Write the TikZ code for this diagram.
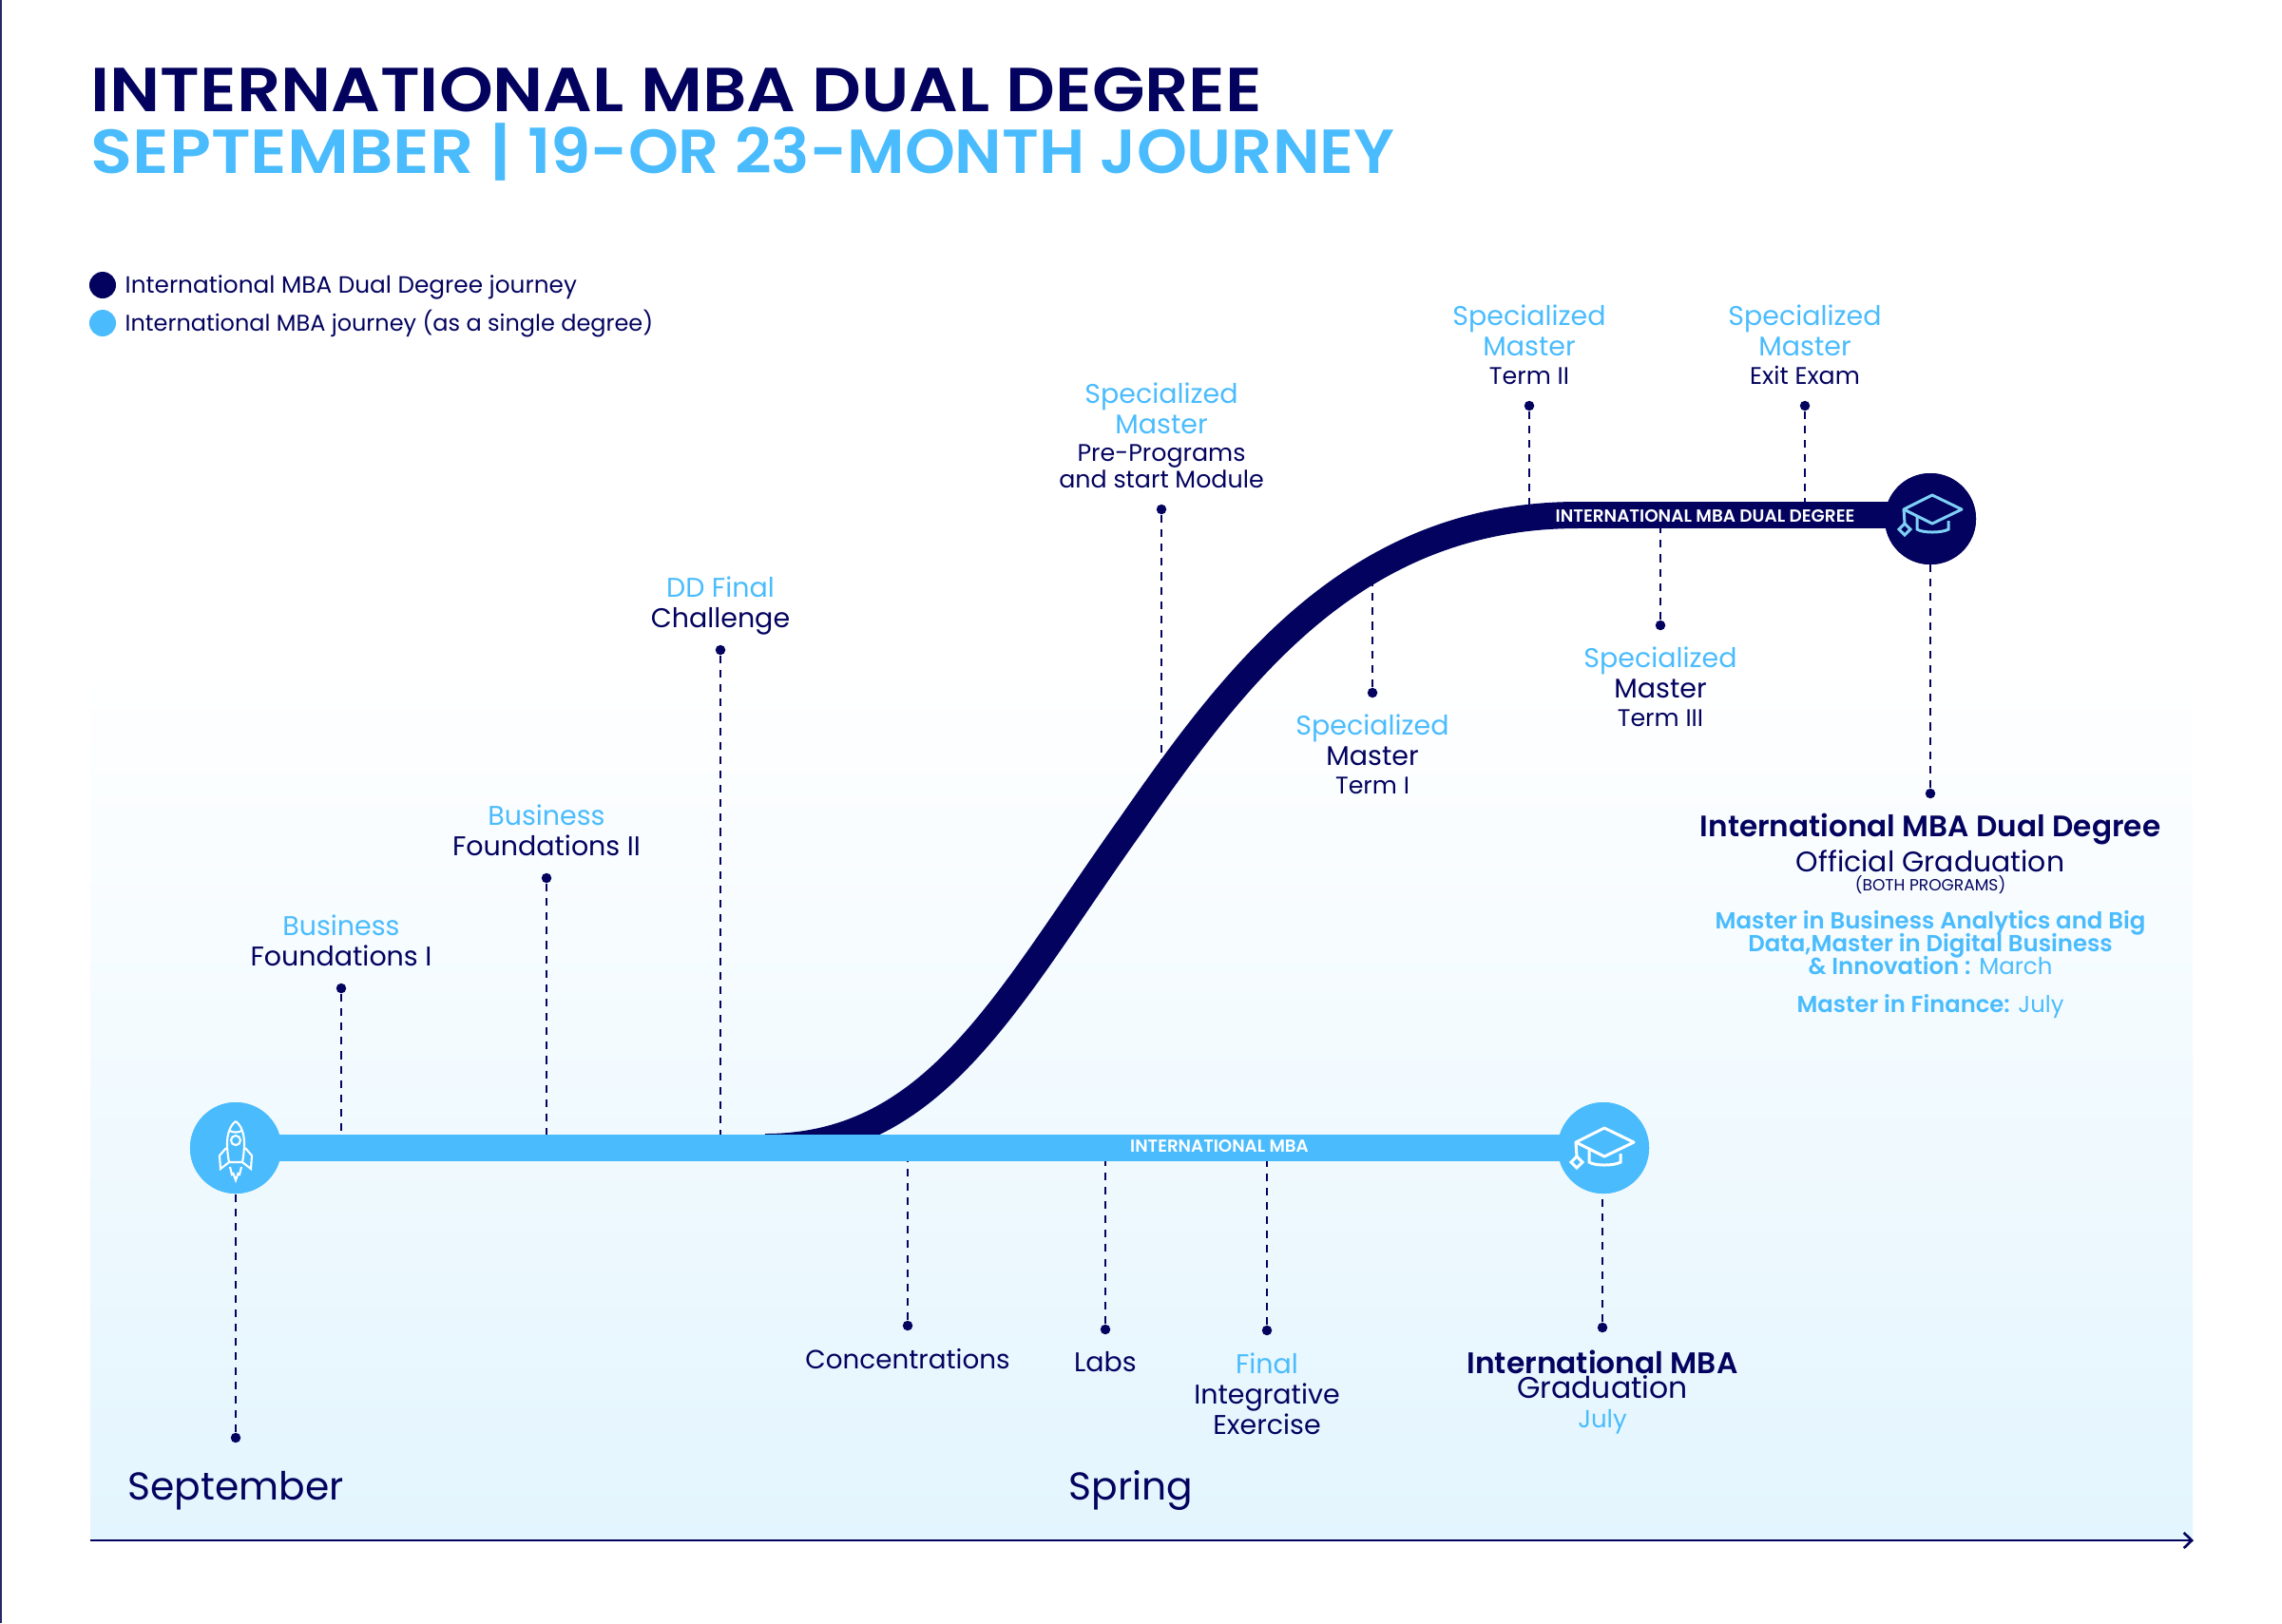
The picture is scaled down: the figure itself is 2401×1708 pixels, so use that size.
\documentclass[tikz,border=0pt]{standalone}
\usepackage{fontspec}
\setmainfont{Poppins}
\newfontfamily\semib{Poppins SemiBold}
\newfontfamily\titlea[FakeStretch=1.105]{Poppins SemiBold}
\newfontfamily\titleb[FakeStretch=1.03]{Poppins SemiBold}
\usetikzlibrary{arrows.meta}
\definecolor{navy}{HTML}{03035F}
\definecolor{sky}{HTML}{4ABCFD}
\definecolor{capblue}{HTML}{7FD0F5}
\definecolor{bgblue}{HTML}{E3F5FE}
\newcommand{\bl}[1]{\textcolor{sky}{#1}}
\newcommand{\tinyline}{\fontsize{7.2}{8}\selectfont}
\tikzset{
  lbl/.style={align=center, inner sep=0pt, text=navy, font=\fontsize{8.1}{9.1}\selectfont},
  dot/.style={circle, fill=navy, inner sep=0pt, minimum size=0.105cm},
  stem/.style={navy, line width=0.75pt, dash pattern=on 2.3pt off 2pt},
  bar/.style={line width=2.8mm},
  barlbl/.style={inner sep=0pt, text=white, font=\semib\fontsize{5.25}{6}\selectfont},
  bigdot/.style={circle, inner sep=0pt, minimum size=0.96cm},
  legdot/.style={circle, inner sep=0pt, minimum size=0.28cm},
  gradcap/.pic={
    \draw[line width=0.85pt, line join=round] (2,-25) -- (33,-10) -- (2,5) -- (-28,-10) -- cycle;
    \draw[line width=0.85pt] (-28,-10) -- (-27,5);
    \draw[line width=0.85pt] (-27,5) -- (-21,11) -- (-27,17) -- (-33,11) -- cycle;
    \draw[line width=0.85pt] (-14,-3) -- (-14,11) .. controls (-8,15) and (12,15) .. (19,11) -- (19,2);
  },
  rocket/.pic={
    \draw[line width=0.6pt] (0,-28) .. controls (-6,-24) and (-9,-14) .. (-9,-5) .. controls (-9,3) and (-8,10) .. (-7,15) -- (7,15) .. controls (8,10) and (9,3) .. (9,-5) .. controls (9,-14) and (6,-24) .. (0,-28);
    \draw[line width=0.6pt] (-6,-18) .. controls (-3,-16) and (3,-16) .. (6,-18);
    \draw[line width=0.6pt] (0,-8) circle (5);
    \draw[line width=0.6pt] (-10,0) -- (-17,8) -- (-16,22) -- (-7,15);
    \draw[line width=0.6pt] (10,0) -- (17,8) -- (16,22) -- (7,15);
    \draw[line width=0.6pt] (-6,20) -- (-4,28) -- (-2.5,27) -- (0,34) -- (2.5,27) -- (4,28) -- (6,20);
  }
}
\begin{document}
\begin{tikzpicture}[x=0.01cm, y=-0.01cm]
\useasboundingbox (0,0) rectangle (2401,1708);
\fill[navy!70!gray] (0,0) rectangle (2,1708);
\shade[top color=white, bottom color=bgblue] (95,700) rectangle (2307,1620);
% title and legend
\node[anchor=base west, inner sep=0pt, text=navy, font=\titlea\fontsize{18.6}{20}\selectfont] (title) at (95,117) {INTERNATIONAL MBA DUAL DEGREE};
\node[anchor=base west, inner sep=0pt, text=sky, font=\titlea\fontsize{18.6}{20}\selectfont] (subtitle) at (95,182) {SEPTEMBER | {\titleb 19-OR 23-MONTH JOURNEY}};
\node[legdot, fill=navy] (legdual) at (108,300) {};
\node[legdot, fill=sky] (legmba) at (108,340) {};
\node[lbl, anchor=west, font=\fontsize{7.04}{9}\selectfont] (legduallbl) at (131,302) {International MBA Dual Degree journey};
\node[lbl, anchor=west, font=\fontsize{6.82}{9}\selectfont] (legmbalbl) at (131,341) {International MBA journey (as a single degree)};
% big circles first, stems end in them
\node[bigdot, fill=sky] (start) at (248,1208) {};
\node[bigdot, fill=sky] (gradmba) at (1687,1208) {};
\node[bigdot, fill=navy] (graddual) at (2031,546) {};
% stems
\foreach \name/\x/\yd/\ye in {bfa/359/1040/1200, bfb/575/924/1200, ddf/758/684/1200, pre/1222/536/800, termb/1609/427/540, exit/1899/427/540, terma/1444/729/610, termc/1747/658/545, dual/2031/835/546, conc/955/1395/1210, labs/1163/1399/1210, fin/1333/1400/1210, mba/1686/1397/1208, sept/248/1513/1208} {
\node[dot] (d\name) at (\x,\yd) {};
\coordinate (e\name) at (\x,\ye);
\draw[stem] (d\name) -- (e\name);
}
% curve and bars
\coordinate (curvea) at (805,1207);
\coordinate (curveb) at (1190,868);
\coordinate (curvec) at (1660,542);
\draw[bar, navy] (curvea) .. controls (985,1207) and (1060,1050) .. (curveb) .. controls (1300,710) and (1425,542) .. (curvec);
\draw[bar, navy] (curvec) -- (curvec -| graddual);
\draw[bar, sky] (start.center) -- (gradmba.center);
\node[bigdot, fill=sky] at (start) {};
\node[bigdot, fill=sky] at (gradmba) {};
\node[bigdot, fill=navy] at (graddual) {};
\pic[draw=white] at (start) {rocket};
\pic[draw=white] at (1686,1212) {gradcap};
\pic[draw=capblue] at (graddual) {gradcap};
\node[barlbl, font=\semib\fontsize{5.2}{6}\selectfont] (mbabar) at (1283,1206) {INTERNATIONAL MBA};
\node[barlbl] (dualbar) at (1794,543) {INTERNATIONAL MBA DUAL DEGREE};
% labels above
\node[lbl] (bfalbl) at (359,990) {\bl{Business}\\Foundations I};
\node[lbl] (bfblbl) at (575,874) {\bl{Business}\\Foundations II};
\node[lbl] (ddflbl) at (758,637) {\bl{DD Final}\\Challenge};
\node[lbl] (prelbl) at (1222,458) {\bl{Specialized}\\\bl{Master}\\[-0.6pt]\tinyline Pre-Programs\\[-1.3pt]\tinyline and start Module};
\node[lbl] (termblbl) at (1609,363) {\bl{Specialized}\\\bl{Master}\\[-0.6pt]\tinyline Term II};
\node[lbl] (exitlbl) at (1899,363) {\bl{Specialized}\\\bl{Master}\\[-0.6pt]\tinyline Exit Exam};
\node[lbl] (termalbl) at (1444,794) {\bl{Specialized}\\Master\\[-0.6pt]\tinyline Term I};
\node[lbl] (termclbl) at (1747,723) {\bl{Specialized}\\Master\\[-0.6pt]\tinyline Term III};
% labels below
\node[lbl, font=\fontsize{7.9}{9.1}\selectfont] (conclbl) at (955,1430) {Concentrations};
\node[lbl] (labslbl) at (1163,1433) {Labs};
\node[lbl] (finlbl) at (1333,1467) {\bl{Final}\\Integrative\\Exercise};
\node[lbl, font=\semib\fontsize{8.9}{9.4}\selectfont] (mbalbl) at (1686,1433) {International MBA};
\node[lbl, font=\fontsize{8.95}{9.4}\selectfont] (mbagrad) at (1686,1460) {Graduation};
\node[lbl, text=sky, font=\fontsize{7.4}{9}\selectfont] (mbajuly) at (1686,1496) {July};
\node[lbl, font=\fontsize{11.6}{13}\selectfont] (septlbl) at (248,1569) {September};
\node[lbl, font=\fontsize{11.6}{13}\selectfont] (springlbl) at (1190,1568) {Spring};
% dual degree block
\node[lbl, font=\semib\fontsize{8.85}{10}\selectfont] (duallbl) at (2031,873) {International MBA Dual Degree};
\node[lbl, font=\fontsize{8.5}{10}\selectfont] (dualoff) at (2031,906) {Official Graduation};
\node[lbl, font=\fontsize{4.85}{5}\selectfont] (dualboth) at (2031,931) {(BOTH PROGRAMS)};
\node[lbl, text=sky, font=\fontsize{6.95}{6.9}\selectfont] (dualmaster) at (2031,992) {{\semib Master in Business Analytics and Big}\\[-1.5pt]{\semib Data,Master in Digital Business}\\[-1.5pt]{\semib \& Innovation :} March};
\node[lbl, text=sky, font=\fontsize{6.9}{8}\selectfont] (dualfin) at (2031,1059) {{\semib Master in Finance:} July};
% time axis
\coordinate (axisa) at (95,1621);
\coordinate (axisb) at (2308,1621);
\draw[navy, line width=0.75pt, -{Straight Barb[length=2.4pt,width=4.6pt]}] (axisa) -- (axisb);
\end{tikzpicture}
\end{document}
